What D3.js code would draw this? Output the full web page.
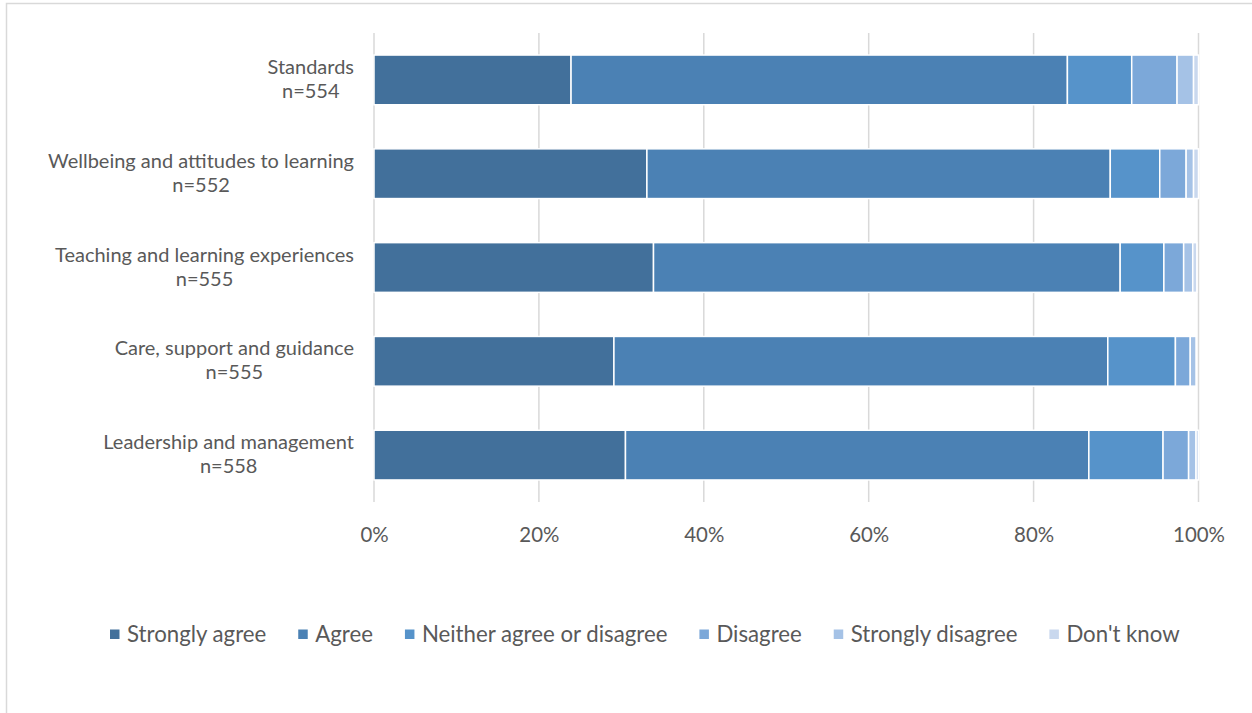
<!DOCTYPE html>
<html>
<head>
<meta charset="utf-8">
<script src="https://cdn.jsdelivr.net/npm/d3@7/dist/d3.min.js"></script>
<style>
  html, body { margin: 0; padding: 0; background: #fff; }
  svg { display: block; }
  text { font-family: Lato, "Open Sans", sans-serif; fill: #595959; }
</style>
</head>
<body>
<svg id="chart" width="1252" height="713"></svg>
<script>
const categories = [
  "Standards",
  "Wellbeing and attitudes to learning",
  "Teaching and learning experiences",
  "Care, support and guidance",
  "Leadership and management"
];
const sampleSizes = ["n=554", "n=552", "n=555", "n=555", "n=558"];
const seriesNames = ["Strongly agree", "Agree", "Neither agree or disagree", "Disagree", "Strongly disagree", "Don't know"];
const stronglyAgree    = [23.9, 33.1, 33.9, 29.1, 30.5];
const agree            = [60.2, 56.2, 56.6, 59.9, 56.2];
const neither          = [7.8, 6.0, 5.3, 8.2, 9.0];
const disagree         = [5.5, 3.2, 2.4, 1.8, 3.1];
const stronglyDisagree = [2.0, 0.9, 1.1, 0.7, 0.9];
const dontKnow         = [0.6, 0.6, 0.5, 0.0, 0.3];
const tickValues = [0, 20, 40, 60, 80, 100];
const tickLabels = ["0%", "20%", "40%", "60%", "80%", "100%"];
const colors = ["#42709b", "#4b81b4", "#5693ca", "#7ca8d9", "#a5c2e6", "#c9d8ee"];

const seriesValues = [stronglyAgree, agree, neither, disagree, stronglyDisagree, dontKnow];
const rows = categories.map((c, i) => {
  const r = { category: c };
  seriesNames.forEach((s, j) => { r[s] = seriesValues[j][i]; });
  return r;
});

const svg = d3.select("#chart");

// chart border (clipped by the window)
svg.append("rect")
  .attr("x", 6.5).attr("y", 3.5)
  .attr("width", 1400).attr("height", 900)
  .attr("fill", "#fff").attr("stroke", "#d9d9d9").attr("stroke-width", 1.5);

const x = d3.scaleLinear().domain([0, 100]).range([374, 1198.5]);
const y = d3.scaleBand().domain(categories).range([33, 502]).paddingInner(0.47).paddingOuter(0.235);

function measure(text, size) {
  const t = svg.append("text").attr("font-size", size).text(text);
  const w = t.node().getComputedTextLength();
  t.remove();
  return w;
}
function fitSize(text, targetWidth, base) {
  return base * targetWidth / measure(text, base);
}
const catSize = fitSize("Wellbeing and attitudes to learning", 306, 21);
const tickSize = fitSize("100%", 52, 22);
// legend: fit total text width so the legend spans 110..1180
const legTextTarget = 1070 - seriesNames.length * 17 - (seriesNames.length - 1) * 32;
const legTextBase = d3.sum(seriesNames, s => measure(s, 22));
const legSize = 22 * legTextTarget / legTextBase;

// gridlines
svg.append("g").selectAll("line").data(tickValues).join("line")
  .attr("x1", d => x(d)).attr("x2", d => x(d))
  .attr("y1", 33).attr("y2", 502)
  .attr("stroke", "#d9d9d9").attr("stroke-width", 1.5);

// stacked bars
const stack = d3.stack().keys(seriesNames);
const stacked = stack(rows);
svg.append("g").selectAll("g").data(stacked).join("g")
  .attr("fill", (d, i) => colors[i])
  .selectAll("rect").data(d => d).join("rect")
  .attr("x", d => x(d[0]))
  .attr("width", d => Math.max(0, x(d[1]) - x(d[0])))
  .attr("y", d => y(d.data.category))
  .attr("height", y.bandwidth())
  .attr("stroke", "#fff").attr("stroke-width", 1.5);

// x axis labels
const xAxis = d3.axisBottom(x).tickValues(tickValues).tickFormat((d, i) => tickLabels[i]).tickSize(0);
const ax = svg.append("g").attr("transform", "translate(0,520)").call(xAxis);
ax.select(".domain").remove();
ax.selectAll("text").attr("font-size", tickSize).attr("font-family", "Lato, 'Open Sans', sans-serif")
  .attr("fill", "#595959").attr("dy", 0).attr("y", 22);

// category labels (block right-aligned, lines centered)
categories.forEach((c, i) => {
  const cy = y(c) + y.bandwidth() / 2;
  const g = svg.append("g");
  const t1 = g.append("text").attr("font-size", catSize).attr("text-anchor", "middle").attr("y", cy - 6).text(c);
  const t2 = g.append("text").attr("font-size", catSize).attr("text-anchor", "middle").attr("y", cy + 18).text(sampleSizes[i]);
  const w = Math.max(t1.node().getComputedTextLength(), t2.node().getComputedTextLength());
  const cx = 354 - w / 2;
  t1.attr("x", cx); t2.attr("x", cx);
});

// legend
const legend = svg.append("g").attr("transform", "translate(110,634)");
let lx = 0;
seriesNames.forEach((s, i) => {
  const g = legend.append("g").attr("transform", `translate(${lx},0)`);
  g.append("rect").attr("x", 0).attr("y", -4.5).attr("width", 9.5).attr("height", 9.5).attr("fill", colors[i]);
  const t = g.append("text").attr("x", 17).attr("y", 8).attr("font-size", legSize).text(s);
  lx += 17 + t.node().getComputedTextLength() + 32;
});
</script>
</body>
</html>
